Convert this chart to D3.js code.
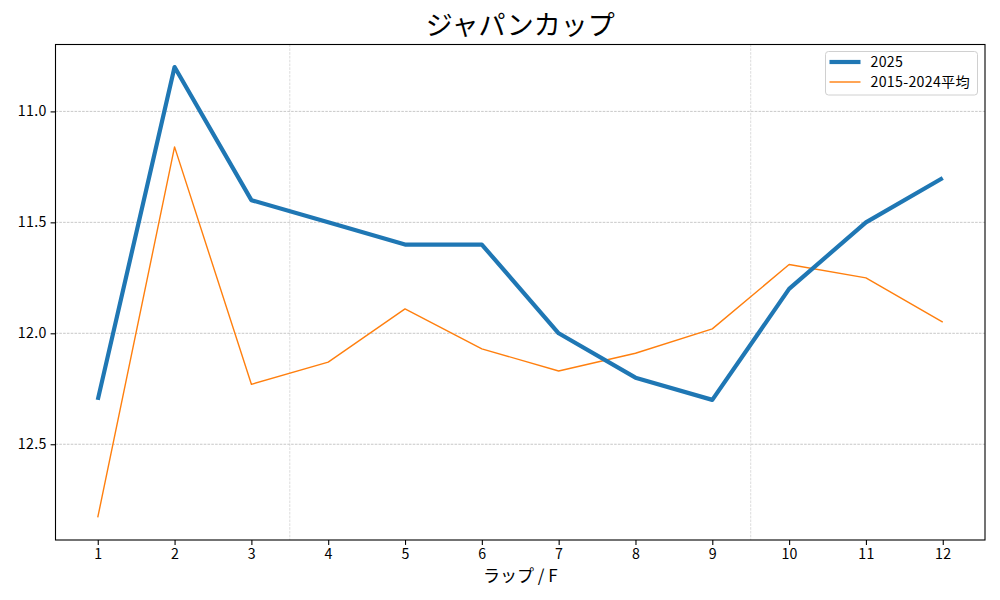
<!DOCTYPE html>
<html>
<head>
<meta charset="utf-8">
<script src="https://cdn.jsdelivr.net/npm/d3@7"></script>
<style>
  body { margin: 0; background: #fff; }
  svg { font-family: "Noto Sans CJK JP", "DejaVu Sans", sans-serif; }
</style>
</head>
<body>
<svg id="mainsvg" width="1000" height="600"></svg>
<script>
// lap numbers (furlongs) and lap times
const laps = [1, 2, 3, 4, 5, 6, 7, 8, 9, 10, 11, 12]
const lap2025 = [12.3, 10.8, 11.4, 11.5, 11.6, 11.6, 12.0, 12.2, 12.3, 11.8, 11.5, 11.3]
const lapAvg = [12.83, 11.16, 12.23, 12.13, 11.89, 12.07, 12.17, 12.09, 11.98, 11.69, 11.75, 11.95]
const yTicks = [11.0, 11.5, 12.0, 12.5]
const sectionLines = [3.5, 9.5]
const seriesNames = ['2025', '2015-2024平均']

const svg = d3.select('#mainsvg')
const plotLeft = 55.5, plotRight = 985, plotTop = 44.5, plotBottom = 540

// matplotlib-style 5% margins
const xExt = d3.extent(laps)
const xPad = (xExt[1] - xExt[0]) * 0.05
const allY = lap2025.concat(lapAvg)
const yExt = d3.extent(allY)
const yPad = (yExt[1] - yExt[0]) * 0.05

const x = d3.scaleLinear().domain([xExt[0] - xPad, xExt[1] + xPad]).range([plotLeft, plotRight])
// inverted: faster laps on top
const y = d3.scaleLinear().domain([yExt[0] - yPad, yExt[1] + yPad]).range([plotTop, plotBottom])

// grid
svg.append('g').selectAll('line').data(yTicks).join('line')
  .attr('x1', plotLeft).attr('x2', plotRight)
  .attr('y1', d => y(d)).attr('y2', d => y(d))
  .attr('stroke', '#b0b0b0').attr('stroke-width', 0.7)
  .attr('stroke-dasharray', '2.6,1.2')

svg.append('g').selectAll('line').data(sectionLines).join('line')
  .attr('x1', d => x(d)).attr('x2', d => x(d))
  .attr('y1', plotTop).attr('y2', plotBottom)
  .attr('stroke', '#cccccc').attr('stroke-width', 0.7)
  .attr('stroke-dasharray', '2.6,1.2')

// lines
const line = d3.line().x((d, i) => x(laps[i])).y(d => y(d))
svg.append('path').datum(lapAvg)
  .attr('d', line).attr('fill', 'none')
  .attr('stroke', '#ff7f0e').attr('stroke-width', 1.4)
  .attr('stroke-linejoin', 'round')
svg.append('path').datum(lap2025)
  .attr('d', line).attr('fill', 'none')
  .attr('stroke', '#1f77b4').attr('stroke-width', 4.2)
  .attr('stroke-linejoin', 'round')

// axes
const xAxis = svg.append('g').attr('transform', `translate(0,${plotBottom})`)
  .call(d3.axisBottom(x).tickValues(laps).tickSize(4.9).tickPadding(4).tickFormat(d3.format('d')))
const yAxis = svg.append('g').attr('transform', `translate(${plotLeft},0)`)
  .call(d3.axisLeft(y).tickValues(yTicks).tickSize(4.9).tickPadding(4).tickFormat(d3.format('.1f')))
;[xAxis, yAxis].forEach(a => {
  a.select('.domain').remove()
  a.selectAll('line').attr('stroke', '#000').attr('stroke-width', 1.1)
  a.selectAll('text').attr('fill', '#000').style('font-size', '14.2px')
    .style('letter-spacing', '0.3px')
    .style('font-family', '"Noto Sans CJK JP", "DejaVu Sans", sans-serif')
})

// frame
svg.append('rect')
  .attr('x', plotLeft).attr('y', plotTop)
  .attr('width', plotRight - plotLeft).attr('height', plotBottom - plotTop)
  .attr('fill', 'none').attr('stroke', '#000').attr('stroke-width', 1.1)

// title and label
svg.append('text')
  .attr('x', (plotLeft + plotRight) / 2).attr('y', 35)
  .attr('text-anchor', 'middle')
  .style('font-size', '27px')
  .text('ジャパンカップ')
svg.append('text')
  .attr('x', (plotLeft + plotRight) / 2).attr('y', 582)
  .attr('text-anchor', 'middle')
  .style('font-size', '17px')
  .text('ラップ / F')

// legend
const lg = svg.append('g').attr('transform', 'translate(825.5,51.5)')
lg.append('rect')
  .attr('width', 152).attr('height', 43.5).attr('rx', 3)
  .attr('fill', '#fff').attr('fill-opacity', 0.8)
  .attr('stroke', '#d0d0d0').attr('stroke-width', 1)
const lgColors = ['#1f77b4', '#ff7f0e']
const lgWidths = [4.2, 1.4]
seriesNames.forEach((name, i) => {
  const cy = 10.5 + i * 20
  lg.append('line')
    .attr('x1', 4).attr('x2', 35).attr('y1', cy).attr('y2', cy)
    .attr('stroke', lgColors[i]).attr('stroke-width', lgWidths[i])
  lg.append('text')
    .attr('x', 45).attr('y', cy + 5)
    .style('font-size', '14.2px')
    .style('letter-spacing', '0.3px')
    .text(name)
})
</script>
</body>
</html>
